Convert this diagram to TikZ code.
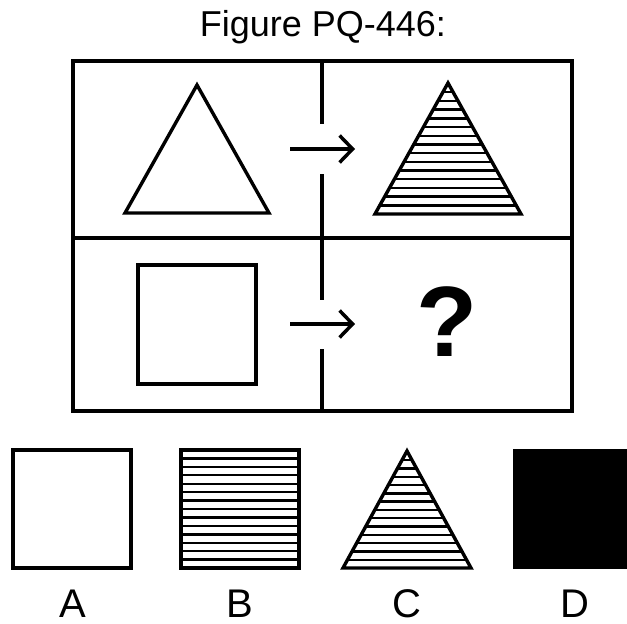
\documentclass[tikz,border=0pt]{standalone}
\usepackage{fontspec}
\setmainfont{Liberation Sans}
\usetikzlibrary{arrows.meta}
\begin{document}
\begin{tikzpicture}[x=1pt,y=-1pt,
  frame/.style={line width=3.2pt,line cap=rect},
  outl/.style={line width=3.4pt,line join=miter},
  hatch/.style={line width=2.4pt},
  arr/.style={line width=3.5pt,-{Straight Barb[length=13pt,width=27pt,line width=3.5pt]}},
  lbl/.style={font=\fontsize{40}{40}\selectfont,anchor=base,inner sep=0pt}]
\useasboundingbox (0,0) rectangle (627,624);
\fill[white] (0,0) rectangle (627,624);
% title
\node[anchor=base,inner sep=0pt,font=\fontsize{36}{36}\selectfont] (title) at (323,36) {Figure PQ-446:};
% frame
\draw[frame] (73,61) rectangle (572,411);
\draw[frame] (73,238) -- (572,238);
\draw[frame] (322,61) -- (322,122);
\draw[frame] (322,176) -- (322,298);
\draw[frame] (322,351) -- (322,411);
% arrows
\coordinate (a1s) at (290,149); \coordinate (a1e) at (355,149);
\coordinate (a2s) at (290,324); \coordinate (a2e) at (355,324);
\draw[arr] (a1s) -- (a1e);
\draw[arr] (a2s) -- (a2e);
% top-left triangle
\draw[outl] (125,213) -- (197,85) -- (269,213) -- cycle;
% top-right hatched triangle
\begin{scope}
\clip (375,214) -- (448,83) -- (521,214) -- cycle;
\foreach \k in {1,...,14} \draw[hatch] (370,214-\k*8.7) -- (530,214-\k*8.7);
\end{scope}
\draw[outl] (375,214) -- (448,83) -- (521,214) -- cycle;
% bottom-left square
\draw[outl] (138,265) rectangle (256,384);
% question mark
\node[inner sep=0pt,font=\bfseries\fontsize{100}{100}\selectfont] (q) at (447,322) {?};
% option A
\draw[outl] (13,450) rectangle (131,568);
% option B
\begin{scope}
\clip (181,450) rectangle (299,568);
\foreach \k in {1,...,13} \draw[hatch] (175,450+\k*8.43) -- (305,450+\k*8.43);
\end{scope}
\draw[outl] (181,450) rectangle (299,568);
% option C
\begin{scope}
\clip (343,568) -- (407,451) -- (471,568) -- cycle;
\foreach \k in {1,...,13} \draw[hatch] (335,568-\k*8.3) -- (480,568-\k*8.3);
\end{scope}
\draw[outl] (343,568) -- (407,451) -- (471,568) -- cycle;
% option D
\fill (513,449) rectangle (640,569);
% labels
\node[lbl] (la) at (73,617) {A};
\node[lbl] (lb) at (240,617) {B};
\node[lbl] (lc) at (407,617) {C};
\node[lbl] (ld) at (575,617) {D};
\end{tikzpicture}
\end{document}
